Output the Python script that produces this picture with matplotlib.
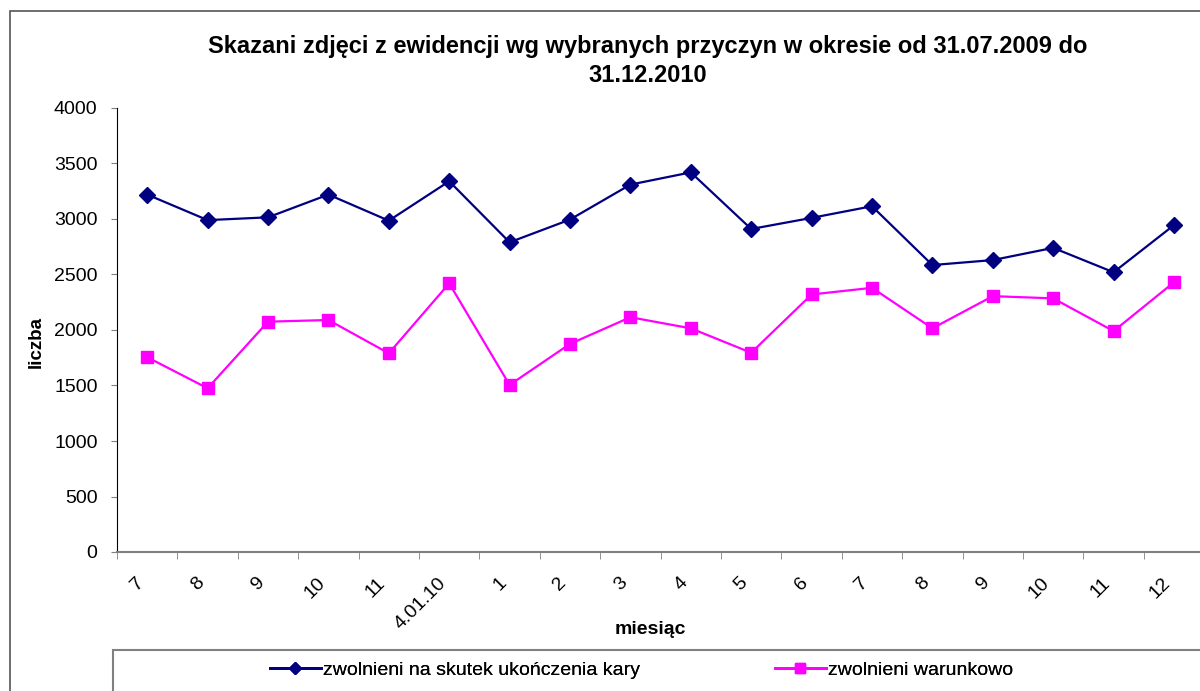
import matplotlib
matplotlib.use("Agg")
import matplotlib.pyplot as plt
from matplotlib.lines import Line2D
from matplotlib.patches import Rectangle

plt.rcParams["font.family"] = ["Liberation Sans", "DejaVu Sans"]

months = ["7", "8", "9", "10", "11", "4.01.10", "1", "2", "3", "4",
          "5", "6", "7", "8", "9", "10", "11", "12"]
ukonczenie_kary = [3220, 2990, 3015, 3220, 2985, 3340, 2790, 2995, 3310, 3420,
                   2910, 3010, 3115, 2585, 2630, 2740, 2520, 2945]
warunkowo = [1755, 1475, 2075, 2090, 1790, 2420, 1505, 1875, 2115, 2015,
             1795, 2320, 2380, 2015, 2305, 2285, 1990, 2430]
series_labels = ["zwolnieni na skutek ukończenia kary", "zwolnieni warunkowo"]

W, H = 1200, 691
fig = plt.figure(figsize=(12, 6.91), dpi=100)

# outer chart frame (cut off at right / bottom like the reference)
fig.add_artist(Rectangle((10 / W, -0.05), 1.1, 1 - 11 / H + 0.05,
                         transform=fig.transFigure, fill=False,
                         edgecolor="#555555", lw=1.2))

ax = fig.add_axes([117 / W, (H - 552) / H, 18 * 60.4 / W, 444 / H])
x = range(len(months))
ax.plot(x, ukonczenie_kary, color="#000080", lw=1.6, marker="D", ms=8,
        label=series_labels[0], clip_on=False)
ax.plot(x, warunkowo, color="#FF00FF", lw=1.6, marker="s", ms=9,
        label=series_labels[1], clip_on=False)

ax.set_xlim(-0.5, len(months) - 0.5)
ax.set_ylim(0, 4000)
ax.set_yticks(range(0, 4001, 500))
ax.tick_params(axis="y", labelsize=14, length=4, color="#808080", pad=10)
ax.set_xticks(list(x))
ax.set_xticklabels(months, rotation=45, ha="right", fontsize=14)
ax.tick_params(axis="x", which="major", length=0, pad=16)
ax.set_xticks([i - 0.5 for i in range(len(months) + 1)], minor=True)
ax.tick_params(axis="x", which="minor", length=5, color="#808080")

ax.spines[["top", "right"]].set_visible(False)
ax.spines["bottom"].set_color("#808080")
ax.spines["bottom"].set_linewidth(1.5)
ax.spines["left"].set_color("black")

ax.set_ylabel("liczba", fontsize=13.5, fontweight="bold")
ax.yaxis.set_label_coords(-(117 - 45) / (18 * 60.4), (552 - 342) / 444)
ax.set_xlabel("miesiąc", fontsize=14, fontweight="bold")
ax.xaxis.set_label_coords(533 / (18 * 60.4), -(621 - 552) / 444)

fig.text(648 / W, 1 - 61 / H,
         "Skazani zdjęci z ewidencji wg wybranych przyczyn w okresie od 31.07.2009 do\n31.12.2010",
         ha="center", va="center", fontsize=17, fontweight="bold",
         linespacing=1.3)

# legend box
fig.add_artist(Rectangle((113 / W, -0.05), 1.1, 1 - 650 / H + 0.05,
                         transform=fig.transFigure, fill=False,
                         edgecolor="#808080", lw=1.5))
handles = [
    Line2D([], [], color="#000080", lw=2, marker="D", ms=6),
    Line2D([], [], color="#FF00FF", lw=2, marker="s", ms=7),
]
for h, lab, x0 in zip(handles, series_labels, [270, 775]):
    leg = fig.legend([h], [lab], loc="center left",
                     bbox_to_anchor=(x0 / W, 1 - 670 / H), frameon=False,
                     fontsize=14, handlelength=2.6, handletextpad=0.15,
                     borderpad=0, borderaxespad=0)
    fig.add_artist(leg)

fig.savefig("out.png", dpi=100)
